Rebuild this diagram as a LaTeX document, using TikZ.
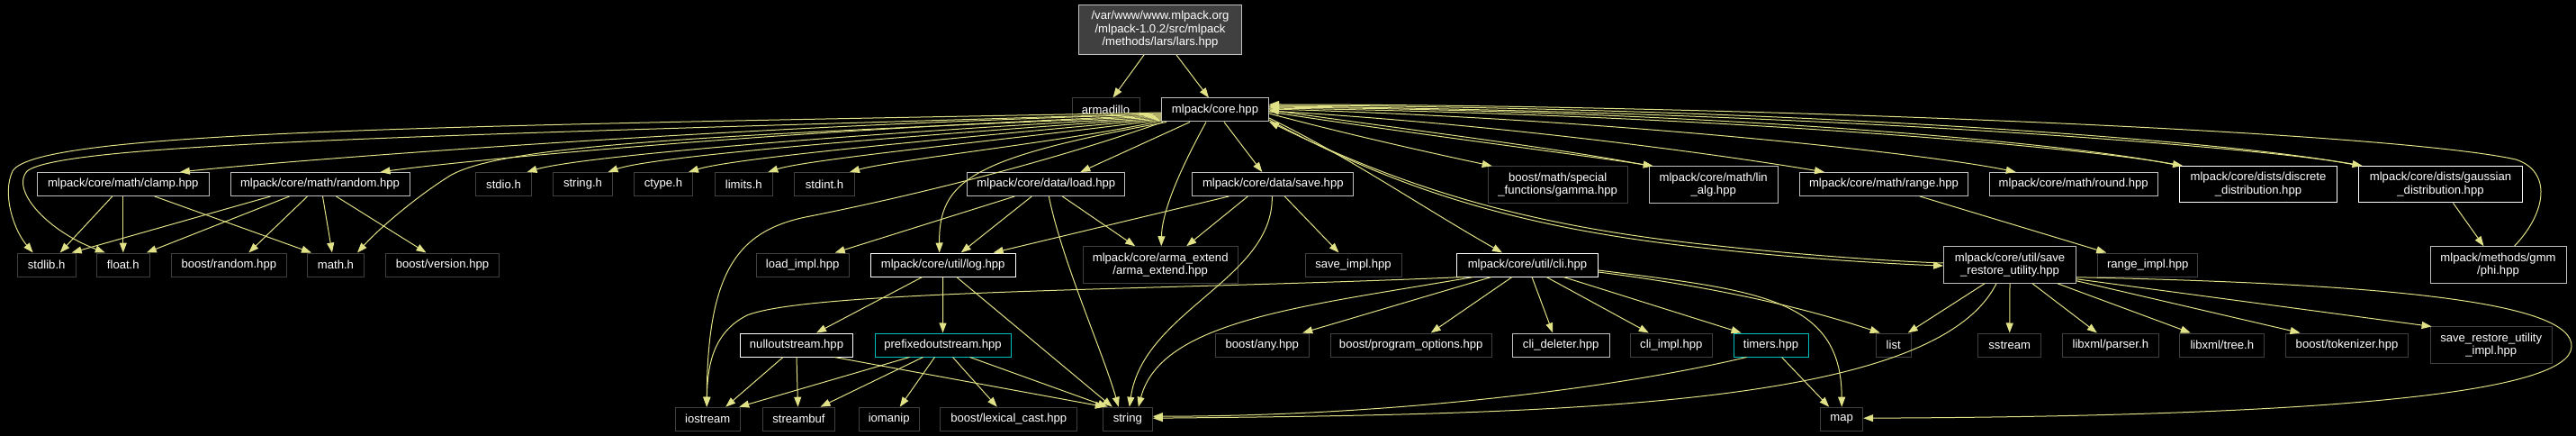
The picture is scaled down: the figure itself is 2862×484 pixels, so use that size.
\documentclass[tikz,border=0pt]{standalone}
\usepackage{fontspec}
\setmainfont{Liberation Sans}
\usetikzlibrary{arrows.meta}
\definecolor{edgec}{RGB}{225,225,135}
\definecolor{bdk}{RGB}{64,64,64}
\definecolor{blt}{RGB}{191,191,191}
\definecolor{bcy}{RGB}{0,191,191}
\definecolor{larsfill}{RGB}{64,64,64}
\newcommand{\nfont}{\fontsize{13.1pt}{14.5pt}\selectfont}
\begin{document}
\begin{tikzpicture}[x=1pt,y=-1pt,
 box/.style={draw, fill=black, text=white, font=\nfont, inner sep=0pt, align=center, line width=1pt},
 dk/.style={box, draw=bdk},
 lt/.style={box, draw=blt},
 wh/.style={box, draw=white},
 cy/.style={box, draw=bcy},
 sz/.style 2 args={minimum width=#1pt, minimum height=#2pt},
 edg/.style={draw=edgec, line width=1pt, -{Triangle[length=11pt,width=8pt]}}]
\useasboundingbox (0,0) rectangle (2862,484);
\fill[black] (0,0) rectangle (2862,484);

% ---- nodes ----
\node[lt, fill=larsfill, sz={181}{55}] (lars) at (1289,33) {/var/www/www.mlpack.org\\/mlpack-1.0.2/src/mlpack\\/methods/lars/lars.hpp};
\node[dk, sz={75}{26}] (armadillo) at (1228.5,122) {armadillo};
\node[lt, sz={119}{26}] (core) at (1350,122) {mlpack/core.hpp};

\node[lt, sz={191}{26}] (clamp) at (136.8,204.5) {mlpack/core/math/clamp.hpp};
\node[lt, sz={199}{26}] (random) at (355.5,204.5) {mlpack/core/math/random.hpp};
\node[dk, sz={61.6}{26}] (stdio) at (559.5,204.5) {stdio.h};
\node[dk, sz={65.7}{26}] (stringh) at (647.5,204.5) {string.h};
\node[dk, sz={65}{26}] (ctype) at (737,204.5) {ctype.h};
\node[dk, sz={64}{26}] (limits) at (826.3,204.5) {limits.h};
\node[dk, sz={66.7}{26}] (stdint) at (916,204.5) {stdint.h};
\node[lt, sz={175.3}{26}] (load) at (1162.3,204.5) {mlpack/core/data/load.hpp};
\node[lt, sz={179.3}{26}] (save) at (1414.3,204.5) {mlpack/core/data/save.hpp};
\node[dk, sz={154.7}{40.5}] (gamma) at (1730.7,205) {boost/math/special\\\_functions/gamma.hpp};
\node[lt, sz={143.3}{40.5}] (linalg) at (1903.7,205) {mlpack/core/math/lin\\\_alg.hpp};
\node[lt, sz={187.3}{26}] (range) at (2093,204.5) {mlpack/core/math/range.hpp};
\node[lt, sz={187.3}{26}] (round) at (2303.7,204.5) {mlpack/core/math/round.hpp};
\node[wh, sz={175.3}{40.5}] (discrete) at (2509,204.7) {mlpack/core/dists/discrete\\\_distribution.hpp};
\node[wh, sz={182.3}{40.5}] (gaussian) at (2711.5,204.7) {mlpack/core/dists/gaussian\\\_distribution.hpp};

\node[dk, sz={64.7}{26}] (stdlib) at (51.7,294) {stdlib.h};
\node[dk, sz={59}{26}] (float) at (136.8,294) {float.h};
\node[dk, sz={128}{26}] (brandom) at (254.3,294) {boost/random.hpp};
\node[dk, sz={63.3}{26}] (math) at (373,294) {math.h};
\node[dk, sz={125.7}{26}] (bversion) at (491.5,294) {boost/version.hpp};
\node[dk, sz={103.3}{26}] (loadimpl) at (891.7,294) {load\_impl.hpp};
\node[wh, sz={160.7}{26}] (log) at (1047.7,294) {mlpack/core/util/log.hpp};
\node[dk, sz={172.3}{40.5}] (arma) at (1289.2,294) {mlpack/core/arma\_extend\\/arma\_extend.hpp};
\node[dk, sz={107}{26}] (saveimpl) at (1503.5,294) {save\_impl.hpp};
\node[wh, sz={156.7}{26}] (cli) at (1697,294) {mlpack/core/util/cli.hpp};
\node[lt, sz={146.7}{40.5}] (sru) at (2233,294) {mlpack/core/util/save\\\_restore\_utility.hpp};
\node[dk, sz={111}{26}] (rangeimpl) at (2386.2,294) {range\_impl.hpp};
\node[lt, sz={151}{40.5}] (phi) at (2775.5,294) {mlpack/methods/gmm\\/phi.hpp};

\node[wh, sz={125.3}{26}] (nullout) at (885,383) {nulloutstream.hpp};
\node[cy, sz={151}{26}] (prefixed) at (1047.5,383) {prefixedoutstream.hpp};
\node[dk, sz={104.3}{26}] (any) at (1402.2,383) {boost/any.hpp};
\node[dk, sz={179.3}{26}] (po) at (1567.7,383) {boost/program\_options.hpp};
\node[lt, sz={107.7}{26}] (clideleter) at (1734.2,383) {cli\_deleter.hpp};
\node[dk, sz={91}{26}] (cliimpl) at (1856.8,383) {cli\_impl.hpp};
\node[cy, sz={83}{26}] (timers) at (1967.5,383) {timers.hpp};
\node[dk, sz={39.3}{26}] (list) at (2103.7,383) {list};
\node[dk, sz={70}{26}] (sstream) at (2232.7,383) {sstream};
\node[dk, sz={107}{26}] (parser) at (2344.8,383) {libxml/parser.h};
\node[dk, sz={93.7}{26}] (tree) at (2468.8,383) {libxml/tree.h};
\node[dk, sz={136.3}{26}] (tokenizer) at (2607.5,383) {boost/tokenizer.hpp};
\node[dk, sz={135.3}{40.5}] (sruimpl) at (2767.7,383.2) {save\_restore\_utility\\\_impl.hpp};

\node[dk, sz={72.3}{26}] (iostream) at (786.2,465.2) {iostream};
\node[dk, sz={80.3}{26}] (streambuf) at (887.5,465.2) {streambuf};
\node[dk, sz={67.3}{26}] (iomanip) at (987.7,465.2) {iomanip};
\node[dk, sz={152.3}{26}] (lexical) at (1120.8,465.2) {boost/lexical\_cast.hpp};
\node[dk, sz={55}{26}] (string) at (1252.8,465.2) {string};
\node[dk, sz={47}{26}] (map) at (2046.2,465.2) {map};

% ---- edges ----
\draw[edg] ([xshift=-18pt]lars.south) -- ([xshift=8pt]armadillo.north);
\draw[edg] ([xshift=18pt]lars.south) -- ([xshift=-7pt]core.north);

% core, left bundle
\draw[edg] ([yshift=-3pt]core.west) .. controls (500,140) and (40,145) .. (14,190) .. controls (2,215) and (15,255) .. ([xshift=-15pt]stdlib.north);
\draw[edg] ([yshift=-4pt]core.west) .. controls (520,150) and (70,158) .. (30,190) .. controls (12,210) and (50,255) .. ([xshift=-20pt]float.north);
\draw[edg] ([yshift=-5pt]core.west) .. controls (800,140) and (300,180) .. ([xshift=63pt]clamp.north);
\draw[edg] ([yshift=-6pt]core.west) .. controls (850,145) and (500,180) .. ([xshift=67pt]random.north);
\draw[edg] ([yshift=-7pt]core.west) .. controls (800,150) and (560,160) .. (500,195) .. controls (460,220) and (420,255) .. ([xshift=24pt]math.north);
\draw[edg] ([yshift=-8pt]core.west) .. controls (1000,145) and (650,172) .. ([xshift=26pt]stdio.north);
\draw[edg] ([yshift=-9pt]core.west) .. controls (1050,148) and (730,172) .. ([xshift=28pt]stringh.north);
\draw[edg] ([yshift=-10pt]core.west) .. controls (1100,150) and (820,174) .. ([xshift=28pt]ctype.north);
\draw[edg] ([yshift=-11pt]core.west) .. controls (1150,152) and (900,176) .. ([xshift=27pt]limits.north);
\draw[edg] ([yshift=-12pt]core.west) .. controls (1200,155) and (990,178) .. ([xshift=28pt]stdint.north);
\draw[edg] ([xshift=2pt]core.south west) .. controls (1150,185) and (1000,220) .. (900,240) .. controls (820,255) and (786,300) .. ([xshift=-1pt]iostream.north);
\draw[edg] ([xshift=6pt]core.south west) .. controls (1080,175) and (1043,200) .. ([xshift=-4pt]log.north);
\draw[edg] ([xshift=-28pt]core.south) -- ([xshift=38pt]load.north);
\draw[edg] ([xshift=10pt]core.south) -- ([xshift=-12pt]save.north);
\draw[edg] ([xshift=-10pt]core.south) .. controls (1310,190) and (1291,235) .. ([xshift=1pt]arma.north);

% core, right side
\draw[edg] ([yshift=-4pt]core.east) .. controls (1500,150) and (1600,172) .. ([xshift=-73pt]gamma.north);
\draw[edg] ([yshift=-2pt]core.east) .. controls (1550,146) and (1750,171) .. ([xshift=-67pt]linalg.north);
\draw[edg] ([xshift=-71.5pt]linalg.north) .. controls (1750,167) and (1550,142) .. (core.east);
\draw[edg] ([yshift=-1pt]core.east) .. controls (1700,140) and (1950,178) .. ([xshift=-66pt]range.north);
\draw[edg] ([yshift=1pt]core.east) .. controls (1800,132) and (2150,172) .. ([xshift=-64pt]round.north);
\draw[edg] ([yshift=2pt]core.east) .. controls (1900,127) and (2300,162) .. ([xshift=-84pt]discrete.north);
\draw[edg] ([xshift=-87.5pt]discrete.north) .. controls (2300,158) and (1900,123) .. ([yshift=3pt]core.east);
\draw[edg] ([yshift=4pt]core.east) .. controls (2000,123) and (2500,162) .. ([xshift=-87pt]gaussian.north);
\draw[edg] ([xshift=-91pt]gaussian.north) .. controls (2500,158) and (2000,119) .. ([yshift=5pt]core.east);
\draw[edg] ([xshift=18pt]phi.north) .. controls (2830,235) and (2835,190) .. (2795,177) .. controls (2650,145) and (1900,116) .. ([yshift=6pt]core.east);
\draw[edg] ([yshift=-9pt]core.east) .. controls (1500,175) and (1580,230) .. ([xshift=-28pt]cli.north);
\draw[edg] ([yshift=-11pt]core.east) .. controls (1560,215) and (1700,255) .. (1900,276) .. controls (2000,287) and (2100,293) .. ([yshift=-1pt]sru.west);
\draw[edg] ([yshift=2pt]sru.west) .. controls (2100,290) and (2000,283) .. (1900,272) .. controls (1700,251) and (1565,211) .. ([yshift=-13pt]core.east);

% clamp, random
\draw[edg] ([xshift=-12pt]clamp.south) -- ([xshift=15pt]stdlib.north);
\draw[edg] (clamp.south) -- (float.north);
\draw[edg] ([xshift=35pt]clamp.south) -- ([xshift=-27pt]math.north);
\draw[edg] ([xshift=-55pt]random.south) -- ([xshift=28pt]stdlib.north);
\draw[edg] ([xshift=-34pt]random.south) -- ([xshift=26pt]float.north);
\draw[edg] ([xshift=-14pt]random.south) -- ([xshift=22pt]brandom.north);
\draw[edg] ([xshift=3pt]random.south) -- ([xshift=-4pt]math.north);
\draw[edg] ([xshift=18pt]random.south) -- ([xshift=-18pt]bversion.north);

% load, save
\draw[edg] ([xshift=-16pt]load.south) -- ([xshift=20pt]log.north);
\draw[edg] ([xshift=18pt]load.south) -- ([xshift=-28pt]arma.north);
\draw[edg] ([xshift=3pt]load.south) .. controls (1180,290) and (1225,390) .. ([xshift=-10pt]string.north);
\draw[edg] ([xshift=-35pt]load.south) -- ([xshift=36pt]loadimpl.north);
\draw[edg] ([xshift=-49pt]save.south) -- ([xshift=56pt]log.north);
\draw[edg] ([xshift=-28pt]save.south) -- ([xshift=29pt]arma.north);
\draw[edg] ([xshift=-1pt]save.south) .. controls (1415,310) and (1270,345) .. ([xshift=2pt]string.north);
\draw[edg] ([xshift=13pt]save.south) -- ([xshift=-16pt]saveimpl.north);

% log
\draw[edg] ([xshift=-23pt]log.south) -- ([xshift=22pt]nullout.north);
\draw[edg] (log.south) -- (prefixed.north);
\draw[edg] ([xshift=15pt]log.south) -- ([xshift=-17pt]string.north);

% nulloutstream, prefixedoutstream
\draw[edg] ([xshift=-15pt]nullout.south) -- ([xshift=20pt]iostream.north);
\draw[edg] (nullout.south) -- ([xshift=-1pt]streambuf.north);
\draw[edg] ([xshift=42pt]nullout.south) -- ([xshift=-25pt]string.north);
\draw[edg] ([xshift=-37pt]prefixed.south) -- ([xshift=35pt]iostream.north);
\draw[edg] ([xshift=-22pt]prefixed.south) -- ([xshift=24pt]streambuf.north);
\draw[edg] ([xshift=-9pt]prefixed.south) -- ([xshift=12pt]iomanip.north);
\draw[edg] ([xshift=11pt]prefixed.south) -- ([xshift=-13pt]lexical.north);
\draw[edg] ([xshift=30pt]prefixed.south) -- ([xshift=-22pt]string.north);

% cli
\draw[edg] ([xshift=8pt]cli.south west) .. controls (1300,322) and (900,322) .. (830,350) .. controls (790,370) and (786,410) .. ([xshift=-1pt]iostream.north);
\draw[edg] ([xshift=-60pt]cli.south) .. controls (1450,340) and (1290,355) .. ([xshift=12pt]string.north);
\draw[edg] ([xshift=-40pt]cli.south) -- ([xshift=45pt]any.north);
\draw[edg] ([xshift=-17pt]cli.south) -- ([xshift=22pt]po.north);
\draw[edg] ([xshift=5pt]cli.south) -- ([xshift=-9pt]clideleter.north);
\draw[edg] ([xshift=21pt]cli.south) -- ([xshift=-25pt]cliimpl.north);
\draw[edg] ([xshift=40pt]cli.south) -- ([xshift=-33pt]timers.north);
\draw[edg] ([yshift=-8pt]cli.east) .. controls (1900,318) and (2000,340) .. ([xshift=-15pt]list.north);
\draw[edg] ([yshift=-6pt]cli.east) .. controls (1950,322) and (2046,330) .. (map.north);

% timers
\draw[edg] ([xshift=-27pt]timers.south) .. controls (1800,430) and (1550,462) .. ([yshift=3pt]string.east);
\draw[edg] ([xshift=12pt]timers.south) -- ([xshift=-14pt]map.north);

% save_restore_utility
\draw[edg] ([xshift=-28pt]sru.south) -- ([xshift=16pt]list.north);
\draw[edg] (sru.south) -- (sstream.north);
\draw[edg] ([xshift=25pt]sru.south) -- ([xshift=-15pt]parser.north);
\draw[edg] ([xshift=-21pt]sru.south east) -- ([xshift=-35pt]tree.north);
\draw[edg] ([yshift=3pt]sru.south east) -- ([xshift=-52pt]tokenizer.north);
\draw[edg] ([yshift=5pt]sru.south east) -- ([xshift=2pt]sruimpl.north west);
\draw[edg] ([yshift=7pt]sru.south east) .. controls (2650,315) and (2860,335) .. (2857,385) .. controls (2855,435) and (2600,462) .. ([yshift=1pt]map.east);
\draw[edg] ([xshift=-15pt]sru.south) .. controls (2150,450) and (1750,460) .. ([yshift=1pt]string.east);

% others
\draw[edg] ([xshift=40pt]range.south) -- ([xshift=-46pt]rangeimpl.north);
\draw[edg] ([xshift=14pt]gaussian.south) -- ([xshift=-16pt]phi.north);
\end{tikzpicture}
\end{document}
